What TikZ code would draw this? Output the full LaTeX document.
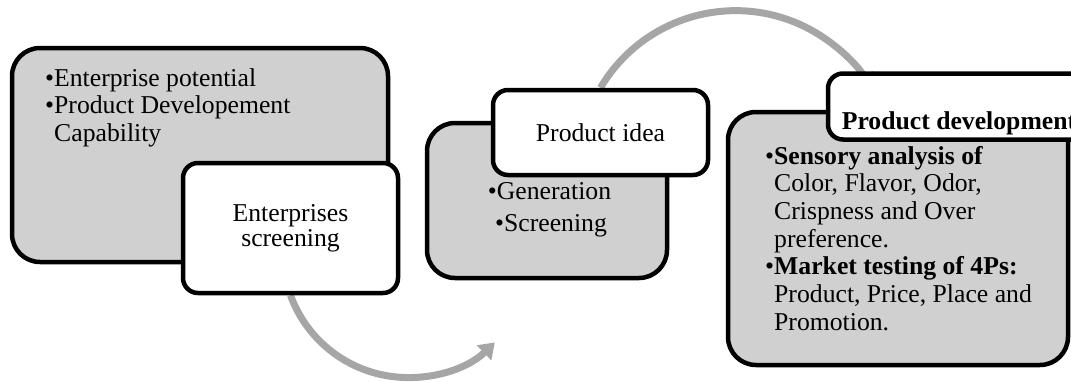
\documentclass[tikz,border=0pt]{standalone}
\usepackage{fontspec}
\setmainfont{Liberation Serif}
\usetikzlibrary{arrows.meta,backgrounds}
\definecolor{boxgray}{RGB}{208,208,208}
\definecolor{arcgray}{RGB}{166,166,166}

\begin{document}
\begin{tikzpicture}[x=1pt,y=-1pt,
	gray box/.style = {draw, line width=4.5pt, fill=boxgray, rounded corners=28pt, inner sep=0pt},
	white box/.style = {draw, line width=4.5pt, fill=white, rounded corners=15pt, inner sep=0pt, align=center,
		font=\fontsize{25.7pt}{25pt}\selectfont},
	txt/.style = {inner sep=0pt, align=left, font=\fontsize{25.7pt}{27.6pt}\selectfont},
	flow/.style = {draw=arcgray, line width=7pt, -{Triangle[width=20pt,length=15pt]}}]
	
	\useasboundingbox (0,0) rectangle (1071,381);
	
	\node[gray box, minimum width=376pt, minimum height=214pt] (pot) at (200,155) {};
	\node[txt, anchor=base west] (potlist) at (45,141.5) {•Enterprise potential\\•Product Developement\\\phantom{•}Capability};
	\node[white box, minimum width=215pt, minimum height=130pt] (es) at (290.5,228) {Enterprises\\screening};
	
	\node[gray box, minimum width=240pt, minimum height=155pt] (gen) at (547,200.5) {};
	\node[txt, anchor=base] (genitem) at (549.5,199) {•Generation};
	\node[txt, anchor=base] (scritem) at (551,231) {•Screening};
	\node[white box, minimum width=215pt, minimum height=85pt] (pi) at (600.5,132.5) {Product idea};
	
	\node[gray box, minimum width=340pt, minimum height=253pt] (sens) at (898,238.5) {};
	\node[txt, anchor=base west] (senslist) at (765,247) {•\textbf{Sensory analysis of}\\\phantom{•}Color, Flavor, Odor,\\\phantom{•}Crispness and Over\\\phantom{•}preference.};
	\node[txt, anchor=base west] (mktlist) at (765,330) {•\textbf{Market testing of 4Ps:}\\\phantom{•}Product, Price, Place and\\\phantom{•}Promotion.};
	\node[white box, minimum width=262pt, minimum height=66pt] (pd) at (959,106.5) {};
	\node[txt, anchor=base] (pdtitle) at (959,129) {\bfseries Product development};
	
	\begin{scope}[on background layer]
		\draw[flow] (es.south) arc[start angle=160, end angle=46, radius=125];
		\draw[flow] (pi.north) arc[start angle=210.6, end angle=330, radius=157];
	\end{scope}
\end{tikzpicture}
\end{document}
